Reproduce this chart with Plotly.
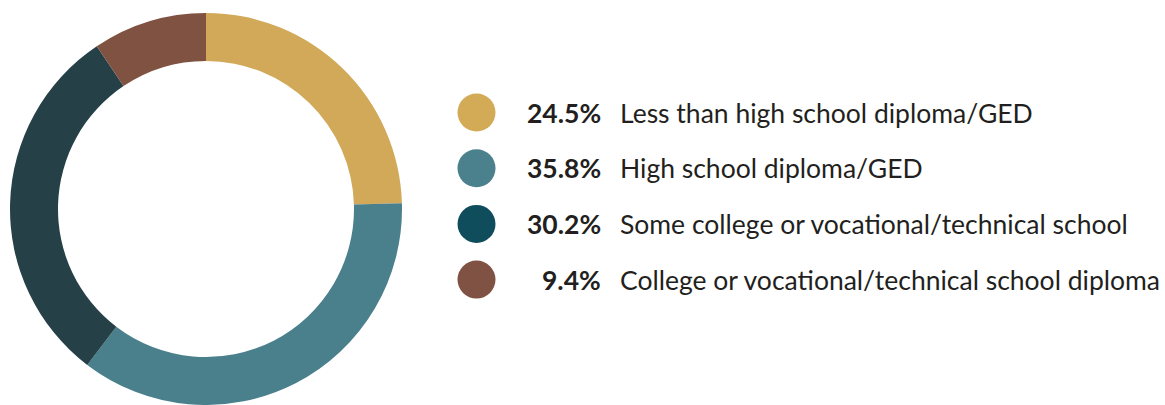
import plotly.graph_objects as go

categories = [
    "Less than high school diploma/GED",
    "High school diploma/GED",
    "Some college or vocational/technical school",
    "College or vocational/technical school diploma",
]
shares = [24.5, 35.8, 30.2, 9.4]
ring_colors = ["#D1A958", "#4A7F8C", "#264048", "#7F5242"]
key_colors = ["#D3AB56", "#4B808D", "#0F4D5C", "#7F5243"]

W, H = 1165, 405
cx, cy, r = 206.0, 209.0, 196.0
hole = 148.0 / r

fig = go.Figure()

fig.add_trace(go.Pie(
    values=shares,
    labels=categories,
    marker=dict(colors=ring_colors, line=dict(width=0)),
    hole=hole,
    sort=False,
    direction="clockwise",
    rotation=0,
    textinfo="none",
    hoverinfo="skip",
    showlegend=False,
    domain=dict(x=[(cx - r) / W, (cx + r) / W], y=[(H - cy - r) / H, (H - cy + r) / H]),
))

# legend key: dots, bold shares, category names
key_x = 476.5
row_y = [112.5, 168.2, 223.9, 279.6]
fig.add_trace(go.Scatter(
    x=[key_x] * len(categories),
    y=row_y,
    mode="markers",
    marker=dict(size=38, color=key_colors, line=dict(width=0)),
    hoverinfo="skip",
    showlegend=False,
))

annotations = []
for yv, s, name in zip(row_y, shares, categories):
    annotations.append(dict(
        x=603, y=yv, xref="x", yref="y", text=f"<b>{s:.1f}%</b>",
        showarrow=False, xanchor="right", yanchor="middle",
        font=dict(family="Lato", size=26.5, color="#231F20"),
    ))
    annotations.append(dict(
        x=618, y=yv, xref="x", yref="y", text=name,
        showarrow=False, xanchor="left", yanchor="middle",
        font=dict(family="Lato", size=26.5, color="#231F20"),
    ))

fig.update_layout(
    width=W, height=H,
    margin=dict(l=0, r=0, t=0, b=0),
    paper_bgcolor="white", plot_bgcolor="white",
    xaxis=dict(range=[0, W], domain=[0, 1], visible=False, fixedrange=True),
    yaxis=dict(range=[H, 0], domain=[0, 1], visible=False, fixedrange=True),
    annotations=annotations,
)

fig.write_html("out.html")
